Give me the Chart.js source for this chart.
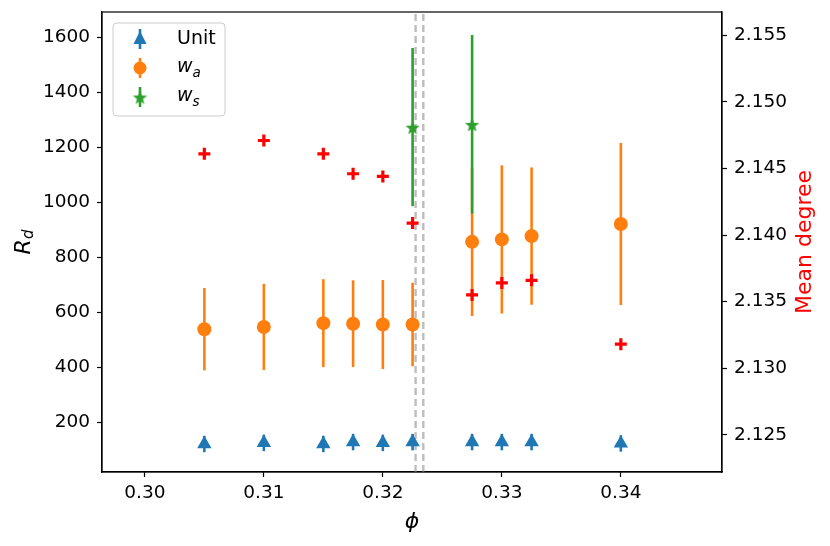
<!DOCTYPE html>
<html>
<head>
<meta charset="utf-8">
<script src="https://cdn.jsdelivr.net/npm/chart.js@4"></script>
<style>
  body { margin: 0; background: #fff; }
  #wrap { width: 830px; height: 546px; }
</style>
</head>
<body>
<div id="wrap"><canvas id="rdChart"></canvas></div>
<script>
// data
const phi = [0.305, 0.31, 0.315, 0.3175, 0.32, 0.3225, 0.3275, 0.33, 0.3325, 0.34];
const unitR = [120, 124, 120, 127, 124, 127, 127, 127, 127, 122];
const unitErr = [30, 30, 30, 30, 30, 30, 30, 30, 30, 30];
const waR = [538, 546, 560, 558, 555, 555, 856, 865, 877, 921];
const waErr = [150, 157, 160, 158, 162, 152, 270, 270, 250, 295];
const wsPhi = [0.3225, 0.3275];
const wsR = [1274, 1284];
const wsErr = [288, 325];
const meanDegree = [2.1461, 2.1471, 2.1461, 2.1446, 2.1444, 2.1409, 2.1355, 2.1364, 2.1366, 2.1318];
const dashPhi = [0.32275, 0.3234];

const xTicks = [0.30, 0.31, 0.32, 0.33, 0.34];
const yTicks = [200, 400, 600, 800, 1000, 1200, 1400, 1600];
const y2Ticks = [2.125, 2.130, 2.135, 2.140, 2.145, 2.150, 2.155];

const X_MIN = 0.2964, X_MAX = 0.3485;
const Y_MIN = 18, Y_MAX = 1693;
const Y2_MIN = 2.1222, Y2_MAX = 2.15675;

const BLUE = '#1f77b4', ORANGE = '#ff7f0e', GREEN = '#2ca02c', RED = '#ff0000';
const FONT = "'DejaVu Sans', sans-serif";

function pts(xs, ys) {
    return xs.map((x, i) => ({ x: x, y: ys[i] }));
}

// filled 5-point star like matplotlib '*'
function starImage(color, R) {
    const c = document.createElement('canvas');
    const s = Math.ceil(R * 2 + 2);
    c.width = s; c.height = s;
    const g = c.getContext('2d');
    g.fillStyle = color;
    g.beginPath();
    for (let i = 0; i < 10; i++) {
        const r = i % 2 === 0 ? R : R * 0.42;
        const a = -Math.PI / 2 + i * Math.PI / 5;
        const px = s / 2 + r * Math.cos(a), py = s / 2 + r * Math.sin(a) + 1;
        if (i === 0) g.moveTo(px, py); else g.lineTo(px, py);
    }
    g.closePath();
    g.fill();
    return c;
}
const star = starImage(GREEN, 7.5);

const errors = {
    Unit: { xs: phi, ys: unitR, err: unitErr, color: BLUE },
    wa: { xs: phi, ys: waR, err: waErr, color: ORANGE },
    ws: { xs: wsPhi, ys: wsR, err: wsErr, color: GREEN }
};

// error bars, box, titles, legend
const extras = {
    id: 'extras',
    beforeDatasetDraw(chart, args) {
        const ds = chart.data.datasets[args.index];
        const e = errors[ds.errKey];
        if (!e) return;
        const ctx = chart.ctx, xs = chart.scales.x, ys = chart.scales.y;
        ctx.save();
        ctx.strokeStyle = e.color;
        ctx.lineWidth = 2.6;
        e.xs.forEach((x, i) => {
            const px = xs.getPixelForValue(x);
            ctx.beginPath();
            ctx.moveTo(px, ys.getPixelForValue(e.ys[i] - e.err[i]));
            ctx.lineTo(px, ys.getPixelForValue(e.ys[i] + e.err[i]));
            ctx.stroke();
        });
        ctx.restore();
    },
    afterDraw(chart) {
        const ctx = chart.ctx, a = chart.chartArea;
        ctx.save();
        ctx.strokeStyle = '#000';
        ctx.lineWidth = 1.2;
        ctx.strokeRect(a.left, a.top, a.right - a.left, a.bottom - a.top);

        // x title
        ctx.fillStyle = '#000';
        ctx.font = 'italic 22px ' + FONT;
        ctx.textAlign = 'center';
        ctx.textBaseline = 'middle';
        ctx.fillText('\u03d5', (a.left + a.right) / 2, 522);

        // left title R_d
        ctx.save();
        ctx.translate(24, (a.top + a.bottom) / 2);
        ctx.rotate(-Math.PI / 2);
        ctx.textAlign = 'left';
        ctx.font = 'italic 22px ' + FONT;
        const wR = ctx.measureText('R').width;
        ctx.font = 'italic 15px ' + FONT;
        const wd = ctx.measureText('d').width;
        const x0 = -(wR + wd) / 2;
        ctx.font = 'italic 22px ' + FONT;
        ctx.fillText('R', x0, 0);
        ctx.font = 'italic 15px ' + FONT;
        ctx.fillText('d', x0 + wR, 5);
        ctx.restore();

        // right title
        ctx.save();
        ctx.translate(805, (a.top + a.bottom) / 2);
        ctx.rotate(-Math.PI / 2);
        ctx.fillStyle = RED;
        ctx.font = '22px ' + FONT;
        ctx.textAlign = 'center';
        ctx.fillText('Mean degree', 0, 0);
        ctx.restore();

        // legend
        const bx = 113, by = 23, bw = 112, bh = 93;
        ctx.beginPath();
        ctx.roundRect(bx, by, bw, bh, 4);
        ctx.fillStyle = 'rgba(255,255,255,0.8)';
        ctx.fill();
        ctx.strokeStyle = '#cccccc';
        ctx.lineWidth = 1;
        ctx.stroke();

        const rows = [
            { y: 39, color: BLUE, kind: 'tri', main: 'Unit' },
            { y: 68, color: ORANGE, kind: 'circ', main: 'w', sub: 'a' },
            { y: 97, color: GREEN, kind: 'star', main: 'w', sub: 's' }
        ];
        const mx = 140, tx = 177;
        rows.forEach(r => {
            ctx.strokeStyle = r.color;
            ctx.fillStyle = r.color;
            ctx.lineWidth = 2.6;
            ctx.beginPath();
            ctx.moveTo(mx, r.y - 10);
            ctx.lineTo(mx, r.y + 10);
            ctx.stroke();
            if (r.kind === 'tri') {
                ctx.beginPath();
                ctx.moveTo(mx, r.y - 8);
                ctx.lineTo(mx + 6.5, r.y + 5);
                ctx.lineTo(mx - 6.5, r.y + 5);
                ctx.closePath();
                ctx.fill();
            } else if (r.kind === 'circ') {
                ctx.beginPath();
                ctx.arc(mx, r.y, 6.5, 0, Math.PI * 2);
                ctx.fill();
            } else {
                ctx.drawImage(star, mx - star.width / 2, r.y - star.height / 2);
            }
            ctx.fillStyle = '#000';
            ctx.textAlign = 'left';
            ctx.textBaseline = 'middle';
            if (r.sub) {
                ctx.font = 'italic 19px ' + FONT;
                ctx.fillText(r.main, tx, r.y - 1);
                const w = ctx.measureText(r.main).width;
                ctx.font = 'italic 13.5px ' + FONT;
                ctx.fillText(r.sub, tx + w, r.y + 5);
            } else {
                ctx.font = '19px ' + FONT;
                ctx.fillText(r.main, tx, r.y);
            }
        });
        ctx.restore();
    }
};

function axisTicks(values, digits, pad) {
    return {
        afterBuildTicks(scale) { scale.ticks = values.map(v => ({ value: v })); },
        ticks: {
            color: '#000',
            font: { family: FONT, size: 18.5 },
            padding: pad,
            callback: v => Number(v).toFixed(digits)
        },
        grid: { drawOnChartArea: false, drawTicks: true, tickLength: 5, tickColor: '#000', tickWidth: 1.2 },
        border: { display: true, color: '#000', width: 1.2 }
    };
}

// fixed axis band sizes so the plot box lands where the figure has it
function fixSize(prop, size) {
    return function (scale) {
        scale[prop] = size;
        scale.paddingTop = 0;
        scale.paddingBottom = 0;
        scale.paddingLeft = 0;
        scale.paddingRight = 0;
    };
}

const dashSets = dashPhi.map((x, i) => ({
    label: 'dash' + i,
    data: [{ x: x, y: Y_MIN }, { x: x, y: Y_MAX }],
    yAxisID: 'y',
    showLine: true,
    borderColor: '#bdbdbd',
    borderWidth: 2.4,
    borderDash: [7, 4],
    pointRadius: 0,
    order: 5
}));

const ctx = document.getElementById('rdChart').getContext('2d');
const rdChart = new Chart(ctx, {
    type: 'scatter',
    data: {
        datasets: [
            {
                label: 'Mean degree',
                data: pts(phi, meanDegree),
                yAxisID: 'y2',
                pointStyle: 'cross',
                pointRadius: 6,
                borderColor: RED,
                backgroundColor: RED,
                pointBorderWidth: 3.2,
                order: 0
            },
            {
                label: 'ws',
                errKey: 'ws',
                data: pts(wsPhi, wsR),
                yAxisID: 'y',
                pointStyle: star,
                order: 1
            },
            {
                label: 'wa',
                errKey: 'wa',
                data: pts(phi, waR),
                yAxisID: 'y',
                pointStyle: 'circle',
                pointRadius: 7,
                backgroundColor: ORANGE,
                borderColor: ORANGE,
                pointBorderWidth: 0,
                order: 2
            },
            {
                label: 'Unit',
                errKey: 'Unit',
                data: pts(phi, unitR),
                yAxisID: 'y',
                pointStyle: 'triangle',
                pointRadius: 8.3,
                backgroundColor: BLUE,
                borderColor: BLUE,
                pointBorderWidth: 0,
                order: 3
            },
            ...dashSets
        ]
    },
    options: {
        responsive: true,
        maintainAspectRatio: false,
        animation: false,
        events: [],
        layout: { padding: { top: 12, left: 0, right: 0, bottom: 0 } },
        scales: {
            x: Object.assign({
                type: 'linear', position: 'bottom', min: X_MIN, max: X_MAX,
                afterFit: fixSize('height', 74)
            }, axisTicks(xTicks, 2, 5)),
            y: Object.assign({
                type: 'linear', position: 'left', min: Y_MIN, max: Y_MAX,
                afterFit: fixSize('width', 102)
            }, axisTicks(yTicks, 0, 7)),
            y2: Object.assign({
                type: 'linear', position: 'right', min: Y2_MIN, max: Y2_MAX,
                afterFit: fixSize('width', 108)
            }, axisTicks(y2Ticks, 3, 7))
        },
        plugins: {
            legend: { display: false },
            tooltip: { enabled: false }
        }
    },
    plugins: [extras]
});
</script>
</body>
</html>
